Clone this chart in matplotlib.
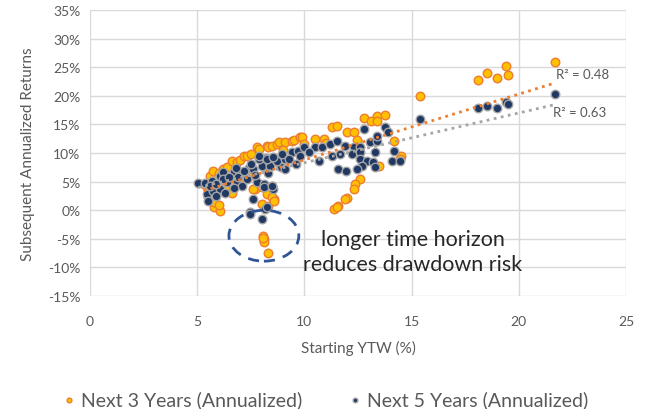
import numpy as np
import matplotlib
matplotlib.use("Agg")
import matplotlib.pyplot as plt
from matplotlib.patches import Ellipse
from matplotlib.ticker import FuncFormatter

plt.rcParams['font.family'] = ['Lato', 'DejaVu Sans']

# ---- data (Starting YTW %, subsequent annualized return %) ----
x3 = [8.07, 8.1, 8.13, 8.3, 8.05,
      5.8, 6.05, 5.5, 5.8, 6.0,
      7.7, 8.0, 8.6, 8.25, 8.0, 8.5, 8.5, 8.3, 7.6, 8.6,
      5.6, 5.75, 6.0, 6.2, 6.4, 6.6, 6.85, 7.0, 7.2, 7.3, 7.5, 7.8, 7.9, 8.25, 8.3, 8.5,
      8.7, 8.8, 9.1, 9.4, 9.5, 9.8, 9.9, 10.5, 10.9, 11.3, 11.5, 12.0, 12.3, 12.45,
      12.8, 13.1, 13.4, 13.75, 13.4, 14.2, 15.4,
      5.3, 5.5, 6.3, 6.6, 7.0, 7.4, 9.0, 10.0, 11.0,
      12.6, 12.35, 12.3, 12.0, 11.55, 11.4, 11.5, 11.9, 14.5, 14.45, 13.5,
      18.1, 18.5, 19.0, 19.4, 19.5, 21.7]
y3 = [-4.5, -5.1, -5.6, -7.5, -4.8,
      0.5, -0.1, 2.3, 1.4, 0.9,
      3.7, 1.0, 1.9, 2.8, 4.0, 4.2, 2.3, 0.7, 3.7, 1.6,
      6.0, 6.9, 6.5, 7.2, 7.5, 8.6, 8.4, 8.8, 9.5, 9.5, 9.8, 11.0, 10.7, 11.2, 11.0, 11.3,
      11.5, 11.9, 11.9, 12.1, 12.2, 12.8, 12.8, 12.4, 12.4, 14.5, 14.7, 13.6, 13.6, 12.2,
      16.2, 15.6, 16.4, 16.6, 15.6, 12.1, 19.9,
      4.5, 3.5, 4.0, 3.0, 5.5, 6.0, 10.5, 11.5, 11.8,
      5.4, 4.5, 3.7, 2.1, 0.7, 0.2, 0.5, 1.9, 9.4, 8.9, 7.7,
      22.7, 23.9, 23.1, 25.2, 23.6, 25.9]

x5 = [5.05, 5.35, 5.7, 6.05, 6.2, 6.7, 7.0, 7.4, 7.6, 8.0, 8.4, 8.7, 7.9, 8.2,
      5.45, 5.5, 5.75, 6.05, 6.4, 6.85, 7.3, 7.8, 8.1, 8.55, 7.6, 8.15, 7.45, 8.0, 7.45, 8.25,
      5.6, 5.9, 6.2, 6.5, 6.9, 7.2, 7.7, 8.3, 8.9, 6.3, 5.9, 7.1, 6.7, 7.5, 6.8,
      7.9, 8.4, 8.7, 9.1, 9.1, 8.1, 8.5, 8.25, 8.55, 8.95, 9.4, 9.7, 10.0, 10.5, 10.8,
      11.2, 11.5, 11.9, 12.3, 12.6, 13.05, 13.4, 12.8, 13.4, 13.75, 13.9, 9.3, 9.6, 9.8, 10.2,
      10.7, 11.3, 11.65, 12.2, 12.6, 13.3, 12.6, 12.9, 13.2, 12.7, 12.45, 11.55, 11.95, 13.3,
      14.2, 14.1, 14.45,
      15.4, 18.1, 18.5, 19.0, 19.4, 19.5, 21.7]
y5 = [4.8, 4.8, 5.1, 6.0, 6.6, 6.6, 6.3, 7.3, 7.2, 7.7, 8.0, 8.4, 8.9, 9.2,
      2.8, 1.6, 3.3, 3.7, 4.9, 4.9, 5.4, 4.9, 4.6, 3.7, 1.9, 0.2, -0.4, -1.6, -0.7, 0.5,
      4.3, 4.5, 5.5, 5.8, 5.8, 6.8, 6.2, 6.5, 7.5, 3.0, 2.5, 4.2, 3.8, 8.0, 7.3,
      9.4, 7.7, 8.6, 7.2, 8.9, 4.0, 4.2, 8.9, 9.3, 9.8, 10.1, 10.3, 11.0, 11.0, 11.0,
      11.5, 12.1, 11.2, 11.0, 11.0, 11.9, 12.1, 14.2, 13.0, 14.5, 13.6, 9.0, 8.0, 9.5, 10.2,
      8.6, 9.4, 9.8, 9.8, 10.1, 10.1, 8.9, 8.6, 8.4, 7.7, 7.2, 7.2, 6.8, 7.5,
      10.3, 8.6, 8.6,
      15.9, 17.8, 18.2, 17.9, 18.9, 18.5, 20.3]

# linear trendline coefficients (slope, intercept)
trend3 = [1.15, -2.7]
trend5 = [0.87, -0.4]

series_names = ["Next 3 Years (Annualized)", "Next 5 Years (Annualized)"]
r2_labels = ["R\u00b2 = 0.48", "R\u00b2 = 0.63"]
annotation = "longer time horizon\nreduces drawdown risk"
x_ticks = [0, 5, 10, 15, 20, 25]
y_ticks = [-15, -10, -5, 0, 5, 10, 15, 20, 25, 30, 35]

ORANGE_FILL = "#FFC000"
ORANGE_EDGE = "#ED7D31"
NAVY_FILL = "#1F3864"
NAVY_EDGE = "#A5A5A5"
GRID = "#D9D9D9"
TXT = "#595959"

fig = plt.figure(figsize=(6.45, 4.10), dpi=100)
ax = fig.add_axes([90/645, 1-297/410, (626-90)/645, (297-11)/410])

ax.set_xlim(0, 25)
ax.set_ylim(-15, 35)
ax.set_xticks(x_ticks)
ax.set_yticks(y_ticks)
ax.yaxis.set_major_formatter(FuncFormatter(lambda v, p: f"{int(v)}%"))
ax.grid(True, color=GRID, linewidth=1.0)
ax.set_axisbelow(True)
for s in ax.spines.values():
    s.set_visible(False)
ax.tick_params(axis="y", length=0, colors=TXT, labelsize=10, pad=7)
ax.tick_params(axis="x", length=0, colors=TXT, labelsize=10, pad=14)

x3a = np.array(x3)
x5a = np.array(x5)
xr3 = np.array([x3a.min(), x3a.max()])
xr5 = np.array([x5a.min(), x5a.max()])

ax.scatter(x3, y3, s=38, c=ORANGE_FILL, edgecolors=ORANGE_EDGE, linewidths=1.0, zorder=3,
           label=series_names[0])
ax.scatter(x5, y5, s=38, c=NAVY_FILL, edgecolors=NAVY_EDGE, linewidths=1.0, zorder=4,
           label=series_names[1])
ax.plot(xr3, np.polyval(trend3, xr3), linestyle=(0, (1, 1.6)), color=ORANGE_EDGE, lw=2.0, zorder=5)
ax.plot(xr5, np.polyval(trend5, xr5), linestyle=(0, (1, 1.6)), color="#A5A5A5", lw=2.0, zorder=5)

ax.text(21.75, 23.8, r2_labels[0], fontsize=9.5, color=TXT, ha="left", va="center")
ax.text(21.6, 17.1, r2_labels[1], fontsize=9.5, color=TXT, ha="left", va="center")

ell = Ellipse((8.11, -4.46), 3.26, 8.9, fill=False, edgecolor="#2F5597",
              linewidth=2.0, linestyle=(0, (4, 3)), zorder=6)
ax.add_patch(ell)
ax.text(15.05, -7.2, annotation, fontsize=15.5, color="#262626", ha="center", va="center",
        linespacing=1.3)

ax.set_xlabel("Starting YTW (%)", fontsize=11, color=TXT, labelpad=9)
ax.set_ylabel("Subsequent Annualized Returns", fontsize=11, color=TXT, labelpad=9)

fig.legend(loc="center", bbox_to_anchor=(0.505, 0.025), ncol=2, frameon=False,
           fontsize=14, markerscale=0.55, handlelength=0.6, handletextpad=0.3,
           columnspacing=2.4, labelcolor=TXT, borderpad=0.1)

fig.savefig("out.png", dpi=100)
